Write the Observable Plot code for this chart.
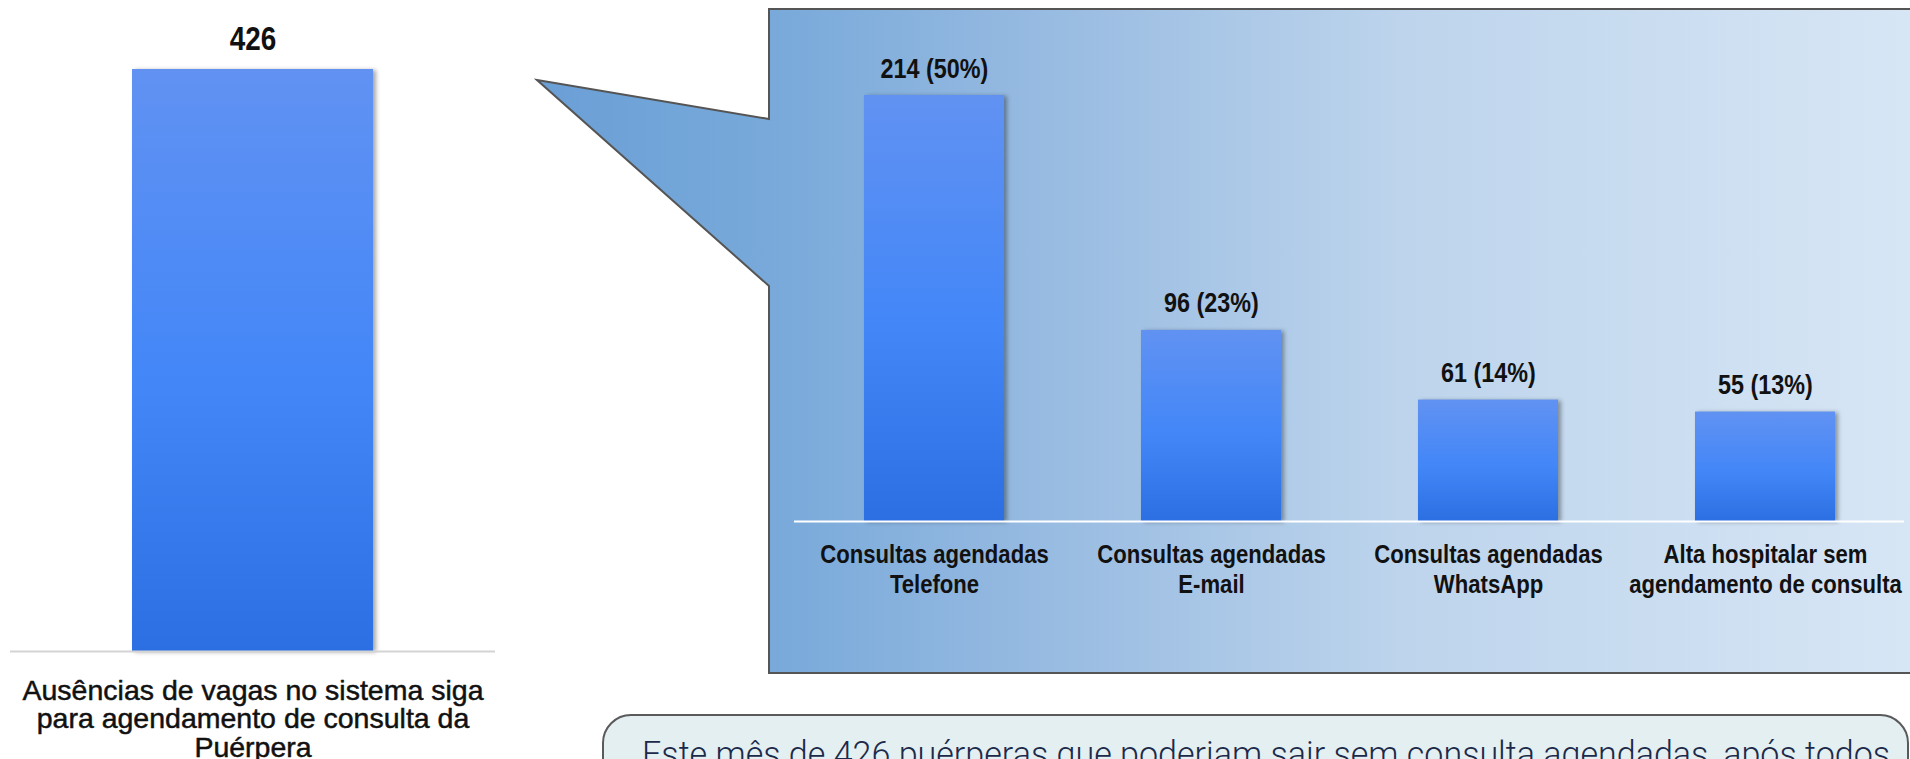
<!DOCTYPE html>
<html>
<head>
<meta charset="utf-8">
<script src="https://cdn.jsdelivr.net/npm/d3@7"></script>
<script src="https://cdn.jsdelivr.net/npm/@observablehq/plot@0.6"></script>
<style>
  html, body { margin: 0; padding: 0; background: #ffffff; }
  #wrap { position: relative; width: 1910px; height: 759px; overflow: hidden; background: #ffffff; }
  #bg { position: absolute; left: 0; top: 0; }
  #left { position: absolute; left: 0; top: 0; width: 510px; height: 759px; }
  #right { position: absolute; left: 769px; top: 0; width: 1141px; height: 759px; }
  .shadowbar { filter: drop-shadow(3px 1px 2px rgba(0,0,0,0.35)); }
</style>
</head>
<body>
<div id="wrap">
  <svg id="bg" width="1910" height="759" xmlns="http://www.w3.org/2000/svg">
    <defs>
      <linearGradient id="barGrad" x1="0" y1="0" x2="0" y2="1">
        <stop offset="0" stop-color="#6192f2"/>
        <stop offset="0.55" stop-color="#4286f8"/>
        <stop offset="1" stop-color="#2c6fe2"/>
      </linearGradient>
      <linearGradient id="calloutGrad" gradientUnits="userSpaceOnUse" x1="537" y1="0" x2="1910" y2="0">
        <stop offset="0" stop-color="#6a9fd6"/>
        <stop offset="0.17" stop-color="#78a9da"/>
        <stop offset="0.34" stop-color="#93b8e0"/>
        <stop offset="0.63" stop-color="#bdd4ec"/>
        <stop offset="1" stop-color="#d7e6f5"/>
      </linearGradient>
    </defs>
    <path d="M537,80 L769,119 L769,9 L1914,9 L1914,673 L769,673 L769,286 Z"
          fill="url(#calloutGrad)" stroke="#555555" stroke-width="2" stroke-linejoin="miter"/>
    <rect x="603" y="715" width="1305" height="110" rx="28" ry="28"
          fill="#e4eff2" stroke="#5a5a5a" stroke-width="2"/>
    <text id="note" x="642" y="766" font-size="35" font-family="Roboto, 'Open Sans', sans-serif" font-weight="300"
          fill="#1c2a4a" textLength="1248" lengthAdjust="spacingAndGlyphs"></text>
  </svg>
  <div id="left"></div>
  <div id="right"></div>
</div>
<script>
// ---- data ----
const leftCategories = ["Ausências de vagas no sistema siga\npara agendamento de consulta da\nPuérpera"];
const leftValues = [426];

const rightCategories = [
  "Consultas agendadas\nTelefone",
  "Consultas agendadas\nE-mail",
  "Consultas agendadas\nWhatsApp",
  "Alta hospitalar sem\nagendamento de consulta"
];
const rightValues = [214, 96, 61, 55];
const rightPercents = [50, 23, 14, 13];

const noteText = "Este mês de 426 puérperas que poderiam sair sem consulta agendadas, após todos";

// ---- build ----
const sans = "'Liberation Sans', Arial, sans-serif";

const leftData = leftCategories.map((c, i) => ({cat: c, value: leftValues[i]}));
const rightData = rightCategories.map((c, i) => ({cat: c, value: rightValues[i], pct: rightPercents[i]}));

document.getElementById("note").textContent = noteText;

const leftPlot = Plot.plot({
  width: 510,
  height: 759,
  marginLeft: 10,
  marginRight: 15,
  marginTop: 69,
  marginBottom: 108,
  style: {background: "transparent", overflow: "visible", fontFamily: sans, color: "#111"},
  x: {domain: leftCategories, paddingInner: 0.335, paddingOuter: 0.335, axis: null},
  y: {domain: [0, d3.max(leftValues)], axis: null},
  marks: [
    Plot.barY(leftData, {x: "cat", y: "value", fill: "url(#barGrad)", className: "shadowbar"}),
    Plot.ruleY([0], {stroke: "#d4d4d4", strokeWidth: 2}),
    Plot.text(leftData, {
      x: "cat", y: "value", text: d => String(d.value),
      dy: -20, lineAnchor: "bottom", className: "narrow",
      fontSize: 34, fontWeight: "bold", fontFamily: sans, fill: "#111"
    }),
    Plot.text(leftData, {
      x: "cat", text: "cat", frameAnchor: "bottom", lineAnchor: "top",
      dy: 28, lineHeight: 1.0, fontSize: 28.5, fontFamily: sans, fill: "#111",
      stroke: "#111", strokeWidth: 0.5
    })
  ]
});
document.getElementById("left").appendChild(leftPlot);

const rightPlot = Plot.plot({
  width: 1141,
  height: 759,
  marginLeft: 25,
  marginRight: 6,
  marginTop: 95,
  marginBottom: 238,
  style: {background: "transparent", overflow: "visible", fontFamily: sans, color: "#111"},
  x: {domain: rightCategories, paddingInner: 0.495, paddingOuter: 0.25, axis: null},
  y: {domain: [0, d3.max(rightValues)], axis: null},
  marks: [
    Plot.barY(rightData, {x: "cat", y: "value", fill: "url(#barGrad)", className: "shadowbar"}),
    Plot.ruleY([0], {stroke: "#ffffff", strokeWidth: 2}),
    Plot.text(rightData, {
      x: "cat", y: "value", text: d => `${d.value} (${d.pct}%)`,
      dy: -18, lineAnchor: "bottom", className: "narrow",
      fontSize: 28.5, fontWeight: "bold", fontFamily: sans, fill: "#111"
    }),
    Plot.text(rightData, {
      x: "cat", text: "cat", frameAnchor: "bottom", lineAnchor: "top",
      dy: 20, lineHeight: 1.154, fontSize: 26, fontWeight: "bold", fontFamily: sans, fill: "#111",
      className: "narrow2"
    })
  ]
});
document.getElementById("right").appendChild(rightPlot);

// compress the bold labels horizontally (Arial-Narrow look)
function compress(selector, k) {
  document.querySelectorAll(selector).forEach(t => {
    const spans = t.querySelectorAll("tspan");
    const targets = spans.length ? Array.from(spans) : [t];
    targets.forEach(el => {
      const L = el.getComputedTextLength();
      el.setAttribute("textLength", (L * k).toFixed(1));
      el.setAttribute("lengthAdjust", "spacingAndGlyphs");
    });
  });
}
compress(".narrow text", 0.82);
compress(".narrow2 text", 0.85);
</script>
</body>
</html>
